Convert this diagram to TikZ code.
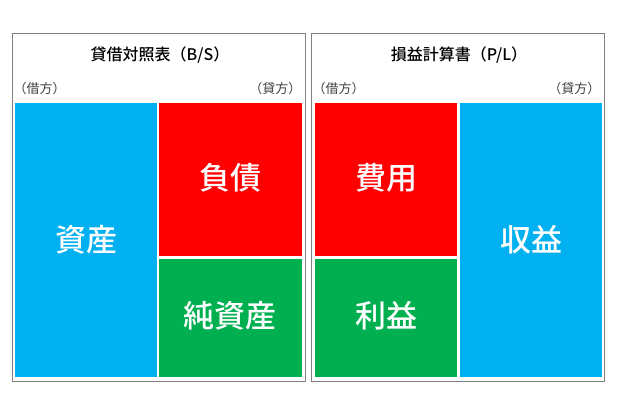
\documentclass[tikz,border=0pt]{standalone}
\usepackage{fontspec}
\newfontfamily\jp{Noto Sans CJK JP}
\newfontfamily\jpm{Noto Sans CJK JP Medium}
\definecolor{cblue}{HTML}{00B0F0}
\definecolor{cred}{HTML}{FF0000}
\definecolor{cgreen}{HTML}{00B050}
\definecolor{cframe}{HTML}{808080}
\definecolor{clabel}{HTML}{404040}
\begin{document}
\begin{tikzpicture}[x=1pt,y=-1pt,
  frame/.style={draw=cframe,line width=1pt},
  blk/.style={inner sep=0pt,anchor=north west},
  big/.style={text=white,font=\jpm\fontsize{31}{31}\selectfont},
  ttl/.style={font=\jpm\fontsize{16}{16}\selectfont,text=black},
  side/.style={font=\jp\fontsize{13}{13}\selectfont,text=clabel}]
\useasboundingbox (0,0) rectangle (618,411);
\fill[white] (0,0) rectangle (618,411);
% left panel
\node[frame,inner sep=0pt,anchor=north west,minimum width=293pt,minimum height=348pt] (lf) at (12,33) {};
\node[ttl] (lt) at (160,55) {貸借対照表（B/S）};
\node[side,anchor=west] (ld) at (10,89) {（借方）};
\node[side,anchor=east] (lc) at (305,89) {（貸方）};
\node[blk,fill=cblue,minimum width=142pt,minimum height=274pt] (asset) at (15,103) {};
\node[blk,fill=cred,minimum width=143pt,minimum height=153pt] (liab) at (158.5,103) {};
\node[blk,fill=cgreen,minimum width=143pt,minimum height=118pt] (eq) at (158.5,259) {};
\node[big] at (asset.center) {資産};
\node[big] at ([yshift=2pt]liab.center) {負債};
\node[big] at ([yshift=2pt]eq.center) {純資産};
% right panel
\node[frame,inner sep=0pt,anchor=north west,minimum width=293pt,minimum height=348pt] (rf) at (311,33) {};
\node[ttl] (rt) at (459,55) {損益計算書（P/L）};
\node[side,anchor=west] (rd) at (309,89) {（借方）};
\node[side,anchor=east] (rc) at (604,89) {（貸方）};
\node[blk,fill=cred,minimum width=142pt,minimum height=153pt] (cost) at (315,103) {};
\node[blk,fill=cgreen,minimum width=142pt,minimum height=118pt] (profit) at (315,259) {};
\node[blk,fill=cblue,minimum width=142pt,minimum height=274pt] (rev) at (460,103) {};
\node[big] at ([yshift=2pt]cost.center) {費用};
\node[big] at ([yshift=2pt]profit.center) {利益};
\node[big] at (rev.center) {収益};
\end{tikzpicture}
\end{document}
